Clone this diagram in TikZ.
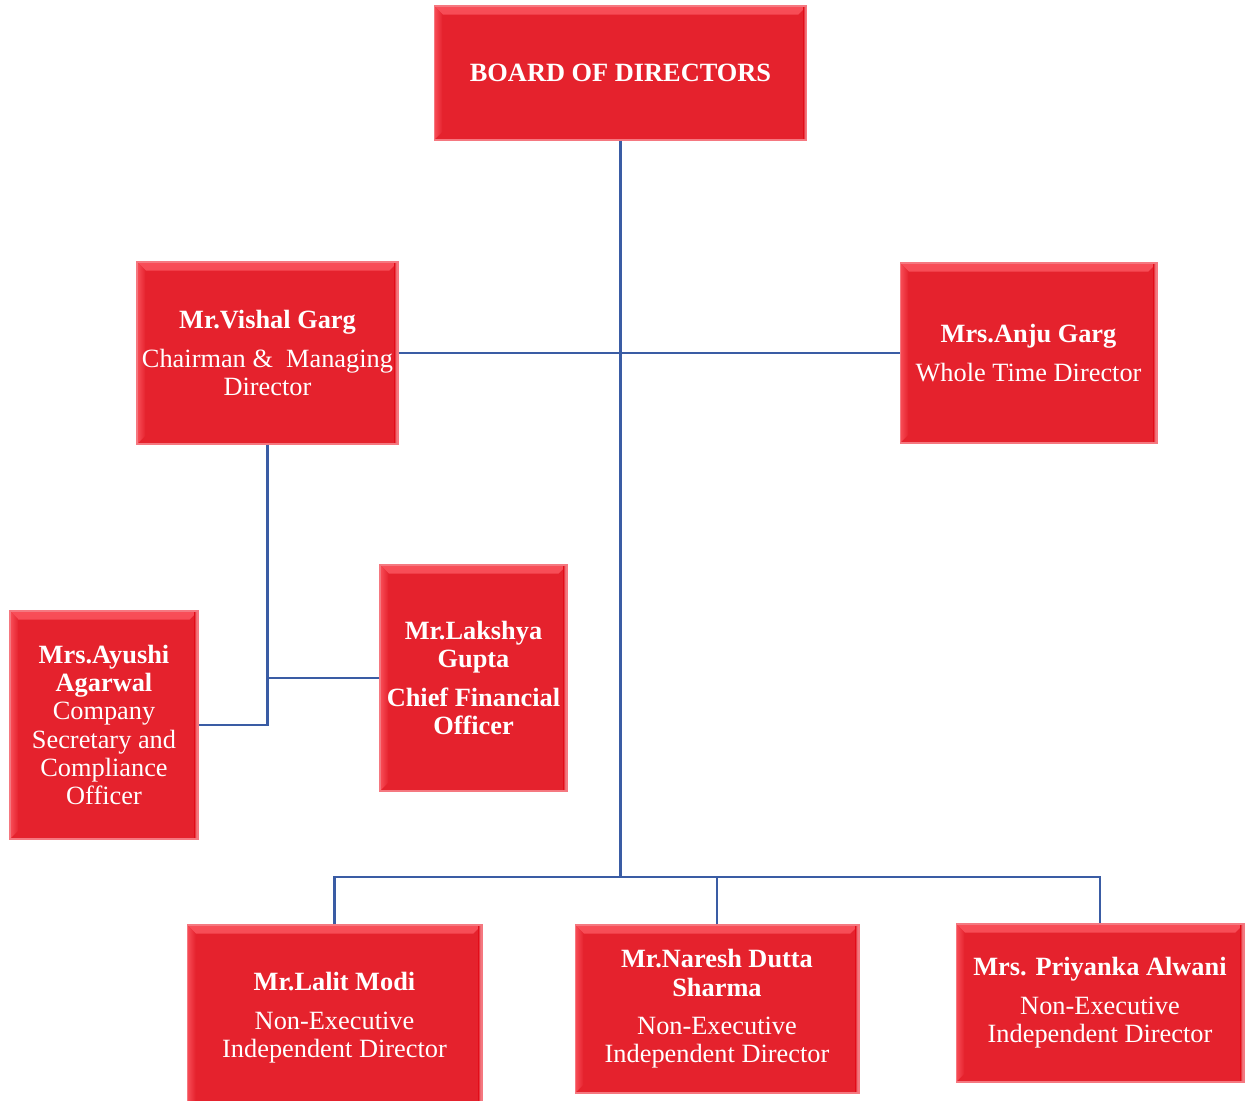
\documentclass[tikz,border=0pt]{standalone}
\usepackage{fontspec}
\setmainfont{Liberation Serif}
\usepackage{tikz}

\definecolor{boxred}{RGB}{229,34,45}
\definecolor{bevlight}{RGB}{248,78,88}
\definecolor{bevedge}{RGB}{245,120,128}
\definecolor{linkblue}{RGB}{58,92,164}

\begin{document}
\begin{tikzpicture}[x=0.02cm, y=-0.02cm,
    box/.style={rectangle, fill=boxred, draw=bevedge, line width=0.6pt, inner sep=0pt,
      text=white, align=center, font=\fontsize{15}{16}\selectfont,
      path picture={
        \shade[top color=bevlight, bottom color=boxred] (path picture bounding box.north west) -- (path picture bounding box.north east)
          -- ([xshift=-0.17cm,yshift=-0.17cm]path picture bounding box.north east)
          -- ([xshift=0.17cm,yshift=-0.17cm]path picture bounding box.north west) -- cycle;
        \shade[left color=bevlight, right color=boxred] (path picture bounding box.north west) -- (path picture bounding box.south west)
          -- ([xshift=0.17cm,yshift=0.17cm]path picture bounding box.south west)
          -- ([xshift=0.17cm,yshift=-0.17cm]path picture bounding box.north west) -- cycle;
        \shade[left color=boxred, right color=white!75!boxred] ([xshift=-0.07cm]path picture bounding box.north east) rectangle (path picture bounding box.south east);
      }},
    link/.style={draw=linkblue, line width=1.2pt},
    trunk/.style={draw=linkblue, line width=2pt}]

    \useasboundingbox (0,0) rectangle (1249,1101);

    \node[box, minimum width=7.46cm, minimum height=2.68cm] (board) at (620.5, 73) {\textbf{BOARD OF DIRECTORS}};
    \node[box, minimum width=5.22cm, minimum height=3.64cm] (vishal) at (267.5, 353) {\textbf{Mr.Vishal Garg}\\[6pt] Chairman \&\ \ Managing\\ Director};
    \node[box, minimum width=5.14cm, minimum height=3.6cm] (anju) at (1028.5, 353) {\textbf{Mrs.Anju Garg}\\[6pt] Whole Time Director};
    \node[box, minimum width=3.76cm, minimum height=4.56cm] (ayushi) at (104, 725) {\textbf{Mrs.Ayushi}\\ \textbf{Agarwal}\\ Company\\ Secretary and\\ Compliance\\ Officer};
    \node[box, minimum width=3.74cm, minimum height=4.52cm] (lakshya) at (473.5, 678) {\textbf{Mr.Lakshya}\\ \textbf{Gupta}\\[6pt] \textbf{Chief Financial}\\ \textbf{Officer}};
    \node[box, minimum width=5.9cm, minimum height=3.72cm] (lalit) at (334.5, 1018) {\textbf{Mr.Lalit Modi}\\[6pt] Non-Executive\\ Independent Director};
    \node[box, minimum width=5.68cm, minimum height=3.36cm] (naresh) at (717, 1009) {\textbf{Mr.Naresh Dutta}\\ \textbf{Sharma}\\[6pt] Non-Executive\\ Independent Director};
    \node[box, minimum width=5.76cm, minimum height=3.16cm] (priyanka) at (1100, 1003) {\textbf{Mrs. Priyanka Alwani}\\[6pt] Non-Executive\\ Independent Director};

    \coordinate (bus) at (620.5, 877);

    \draw[trunk] (board) -- (bus);
    \draw[link] (vishal.east) -- (anju.west);
    \draw[link] (lalit.north) |- (bus) -| (priyanka.north);
    \draw[link] (naresh.north) -- (naresh.north |- bus);
    \draw[link] (vishal.south) |- (ayushi.east);
    \draw[link] (lakshya.west) -- (lakshya.west -| vishal.south);

\end{tikzpicture}
\end{document}
